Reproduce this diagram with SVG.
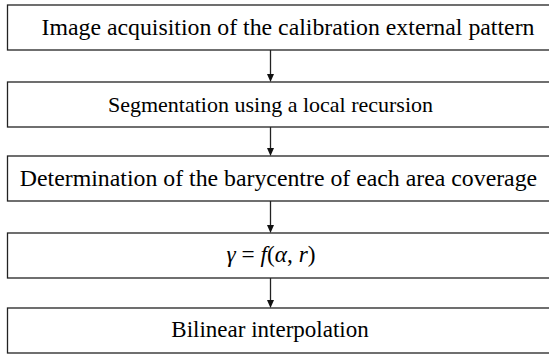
<svg xmlns="http://www.w3.org/2000/svg" width="549" height="354" viewBox="0 0 549 354">
<rect width="549" height="354" fill="#fff"/>
<g id="n1"><rect x="7.5" y="5" width="548" height="45" fill="#fff" stroke="#222" stroke-width="1.3"/><text x="288" y="34.5" font-family="Liberation Serif, serif" font-size="23.8" text-anchor="middle">Image acquisition of the calibration external pattern</text></g>
<g id="n2"><rect x="7.5" y="82" width="548" height="45" fill="#fff" stroke="#222" stroke-width="1.3"/><text x="270.5" y="111.5" font-family="Liberation Serif, serif" font-size="22" text-anchor="middle">Segmentation using a local recursion</text></g>
<g id="n3"><rect x="7.5" y="156" width="548" height="45" fill="#fff" stroke="#222" stroke-width="1.3"/><text x="278.5" y="185.5" font-family="Liberation Serif, serif" font-size="23.8" text-anchor="middle">Determination of the barycentre of each area coverage</text></g>
<g id="n4"><rect x="7.5" y="233" width="548" height="45" fill="#fff" stroke="#222" stroke-width="1.3"/><text x="271" y="262" font-family="Liberation Serif, serif" font-size="23.3" text-anchor="middle"><tspan font-style="italic">γ</tspan> = <tspan font-style="italic">f</tspan>(<tspan font-style="italic">α</tspan>, <tspan font-style="italic">r</tspan>)</text></g>
<g id="n5"><rect x="7.5" y="308" width="548" height="45" fill="#fff" stroke="#222" stroke-width="1.3"/><text x="270" y="337" font-family="Liberation Serif, serif" font-size="23" text-anchor="middle">Bilinear interpolation</text></g>
<g id="edges" stroke="#222" stroke-width="1.3">
<line x1="270.5" y1="50" x2="270.5" y2="75"/>
<polygon points="267,74 274,74 270.5,82" fill="#111" stroke="none"/>
<line x1="270.5" y1="127" x2="270.5" y2="149"/>
<polygon points="267,148 274,148 270.5,156" fill="#111" stroke="none"/>
<line x1="270.5" y1="201" x2="270.5" y2="226"/>
<polygon points="267,225 274,225 270.5,233" fill="#111" stroke="none"/>
<line x1="270.5" y1="278" x2="270.5" y2="301"/>
<polygon points="267,300 274,300 270.5,308" fill="#111" stroke="none"/>
</g>
</svg>
